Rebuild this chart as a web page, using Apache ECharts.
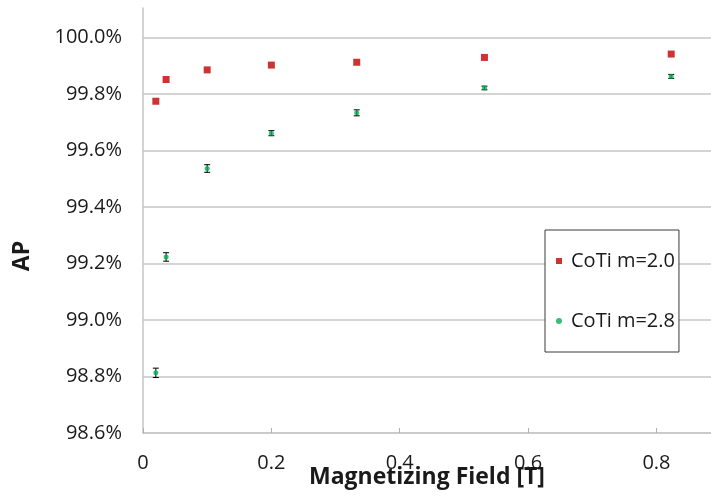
<!DOCTYPE html>
<html>
<head>
<meta charset="utf-8">
<script src="https://cdn.jsdelivr.net/npm/echarts@6/dist/echarts.min.js"></script>
<style>
  html, body { margin: 0; padding: 0; background: #fff; }
  #chart { width: 711px; height: 498px; }
</style>
</head>
<body>
<div id="chart"></div>
<script>
// Magnetizing field (T) at which each sample was measured
const fieldT = [0.02, 0.036, 0.1, 0.2, 0.333, 0.532, 0.823];
// AP (%) for CoTi m=2.0
const apM20 = [99.774, 99.851, 99.885, 99.902, 99.912, 99.929, 99.941];
// AP (%) for CoTi m=2.8 and its error half-width (%)
const apM28 = [98.813, 99.223, 99.536, 99.661, 99.733, 99.821, 99.862];
const errM28 = [0.0165, 0.015, 0.0135, 0.009, 0.0106, 0.0065, 0.007];
const seriesNames = ['CoTi m=2.0', 'CoTi m=2.8'];

const FONT = '"Open Sans", "DejaVu Sans", sans-serif';
const GRID_COLOR = '#c6c6c6';
const TEXT_COLOR = '#1a1a1a';

const pointsM20 = fieldT.map((x, i) => [x, apM20[i]]);
const pointsM28 = fieldT.map((x, i) => [x, apM28[i]]);
const barsM28 = fieldT.map((x, i) => [x, apM28[i] - errM28[i], apM28[i] + errM28[i]]);

const chart = echarts.init(document.getElementById('chart'), null, { renderer: 'canvas' });

chart.setOption({
  backgroundColor: '#ffffff',
  animation: false,
  textStyle: { fontFamily: FONT, color: TEXT_COLOR },
  grid: { left: 143, right: 0, top: 8, bottom: 65, containLabel: false, outerBoundsMode: 'none' },
  xAxis: {
    type: 'value',
    min: 0,
    max: 0.885,
    interval: 0.2,
    name: 'Magnetizing Field [T]',
    nameLocation: 'middle',
    nameGap: 33,
    nameMoveOverlap: false,
    nameTextStyle: { fontFamily: FONT, fontSize: 23, fontWeight: 'bold', color: TEXT_COLOR },
    axisLine: { show: true, lineStyle: { color: GRID_COLOR, width: 1.5 } },
    axisTick: { show: true, inside: true, length: 5, lineStyle: { color: '#b0b0b0', width: 1 } },
    axisLabel: {
      show: true,
      showMaxLabel: false,
      margin: 20,
      fontFamily: FONT,
      fontSize: 20,
      color: TEXT_COLOR,
      formatter: v => (v === 0 ? '0' : String(Number(v.toFixed(1))))
    },
    splitLine: { show: false }
  },
  yAxis: {
    type: 'value',
    min: 98.6,
    max: 100.104,
    interval: 0.2,
    axisLine: { show: true, lineStyle: { color: GRID_COLOR, width: 1.5 } },
    axisTick: { show: false },
    axisLabel: {
      show: true,
      showMaxLabel: false,
      margin: 21,
      fontFamily: FONT,
      fontSize: 20,
      color: TEXT_COLOR,
      formatter: v => v.toFixed(1) + '%'
    },
    splitLine: { show: true, showMaxLine: false, lineStyle: { color: GRID_COLOR, width: 1.5 } }
  },
  legend: {
    left: 545,
    top: 230,
    width: 133,
    orient: 'vertical',
    data: [
      { name: seriesNames[0], icon: 'rect' },
      { name: seriesNames[1], icon: 'circle' }
    ],
    itemWidth: 6,
    itemHeight: 6,
    itemGap: 40,
    padding: [21, 4, 21, 11],
    borderColor: '#3a3a3a',
    borderWidth: 1,
    backgroundColor: '#ffffff',
    textStyle: { fontFamily: FONT, fontSize: 20, color: TEXT_COLOR, lineHeight: 20, padding: [0, 0, 0, 4] },
    selectedMode: false
  },
  graphic: [
    {
      type: 'text',
      x: 22,
      y: 256,
      rotation: Math.PI / 2,
      style: {
        text: 'AP',
        font: 'bold 23px ' + FONT,
        fill: TEXT_COLOR,
        align: 'center',
        verticalAlign: 'middle'
      }
    }
  ],
  series: [
    {
      name: seriesNames[0],
      type: 'scatter',
      data: pointsM20,
      symbol: 'rect',
      symbolSize: 7,
      itemStyle: { color: '#c00000' },
      z: 4
    },
    {
      name: 'error-m28',
      type: 'custom',
      data: barsM28,
      encode: { x: 0, y: [1, 2] },
      z: 3,
      renderItem: function (params, api) {
        const x = api.value(0);
        const top = api.coord([x, api.value(2)]);
        const bot = api.coord([x, api.value(1)]);
        const hw = 3;
        const st = { stroke: '#000000', lineWidth: 1 };
        return {
          type: 'group',
          children: [
            { type: 'line', shape: { x1: top[0], y1: top[1], x2: bot[0], y2: bot[1] }, style: st },
            { type: 'line', shape: { x1: top[0] - hw, y1: top[1], x2: top[0] + hw, y2: top[1] }, style: st },
            { type: 'line', shape: { x1: bot[0] - hw, y1: bot[1], x2: bot[0] + hw, y2: bot[1] }, style: st }
          ]
        };
      }
    },
    {
      name: seriesNames[1],
      type: 'scatter',
      data: pointsM28,
      symbol: 'circle',
      symbolSize: 5,
      itemStyle: { color: '#00b050' },
      z: 5
    }
  ]
});
</script>
</body>
</html>
